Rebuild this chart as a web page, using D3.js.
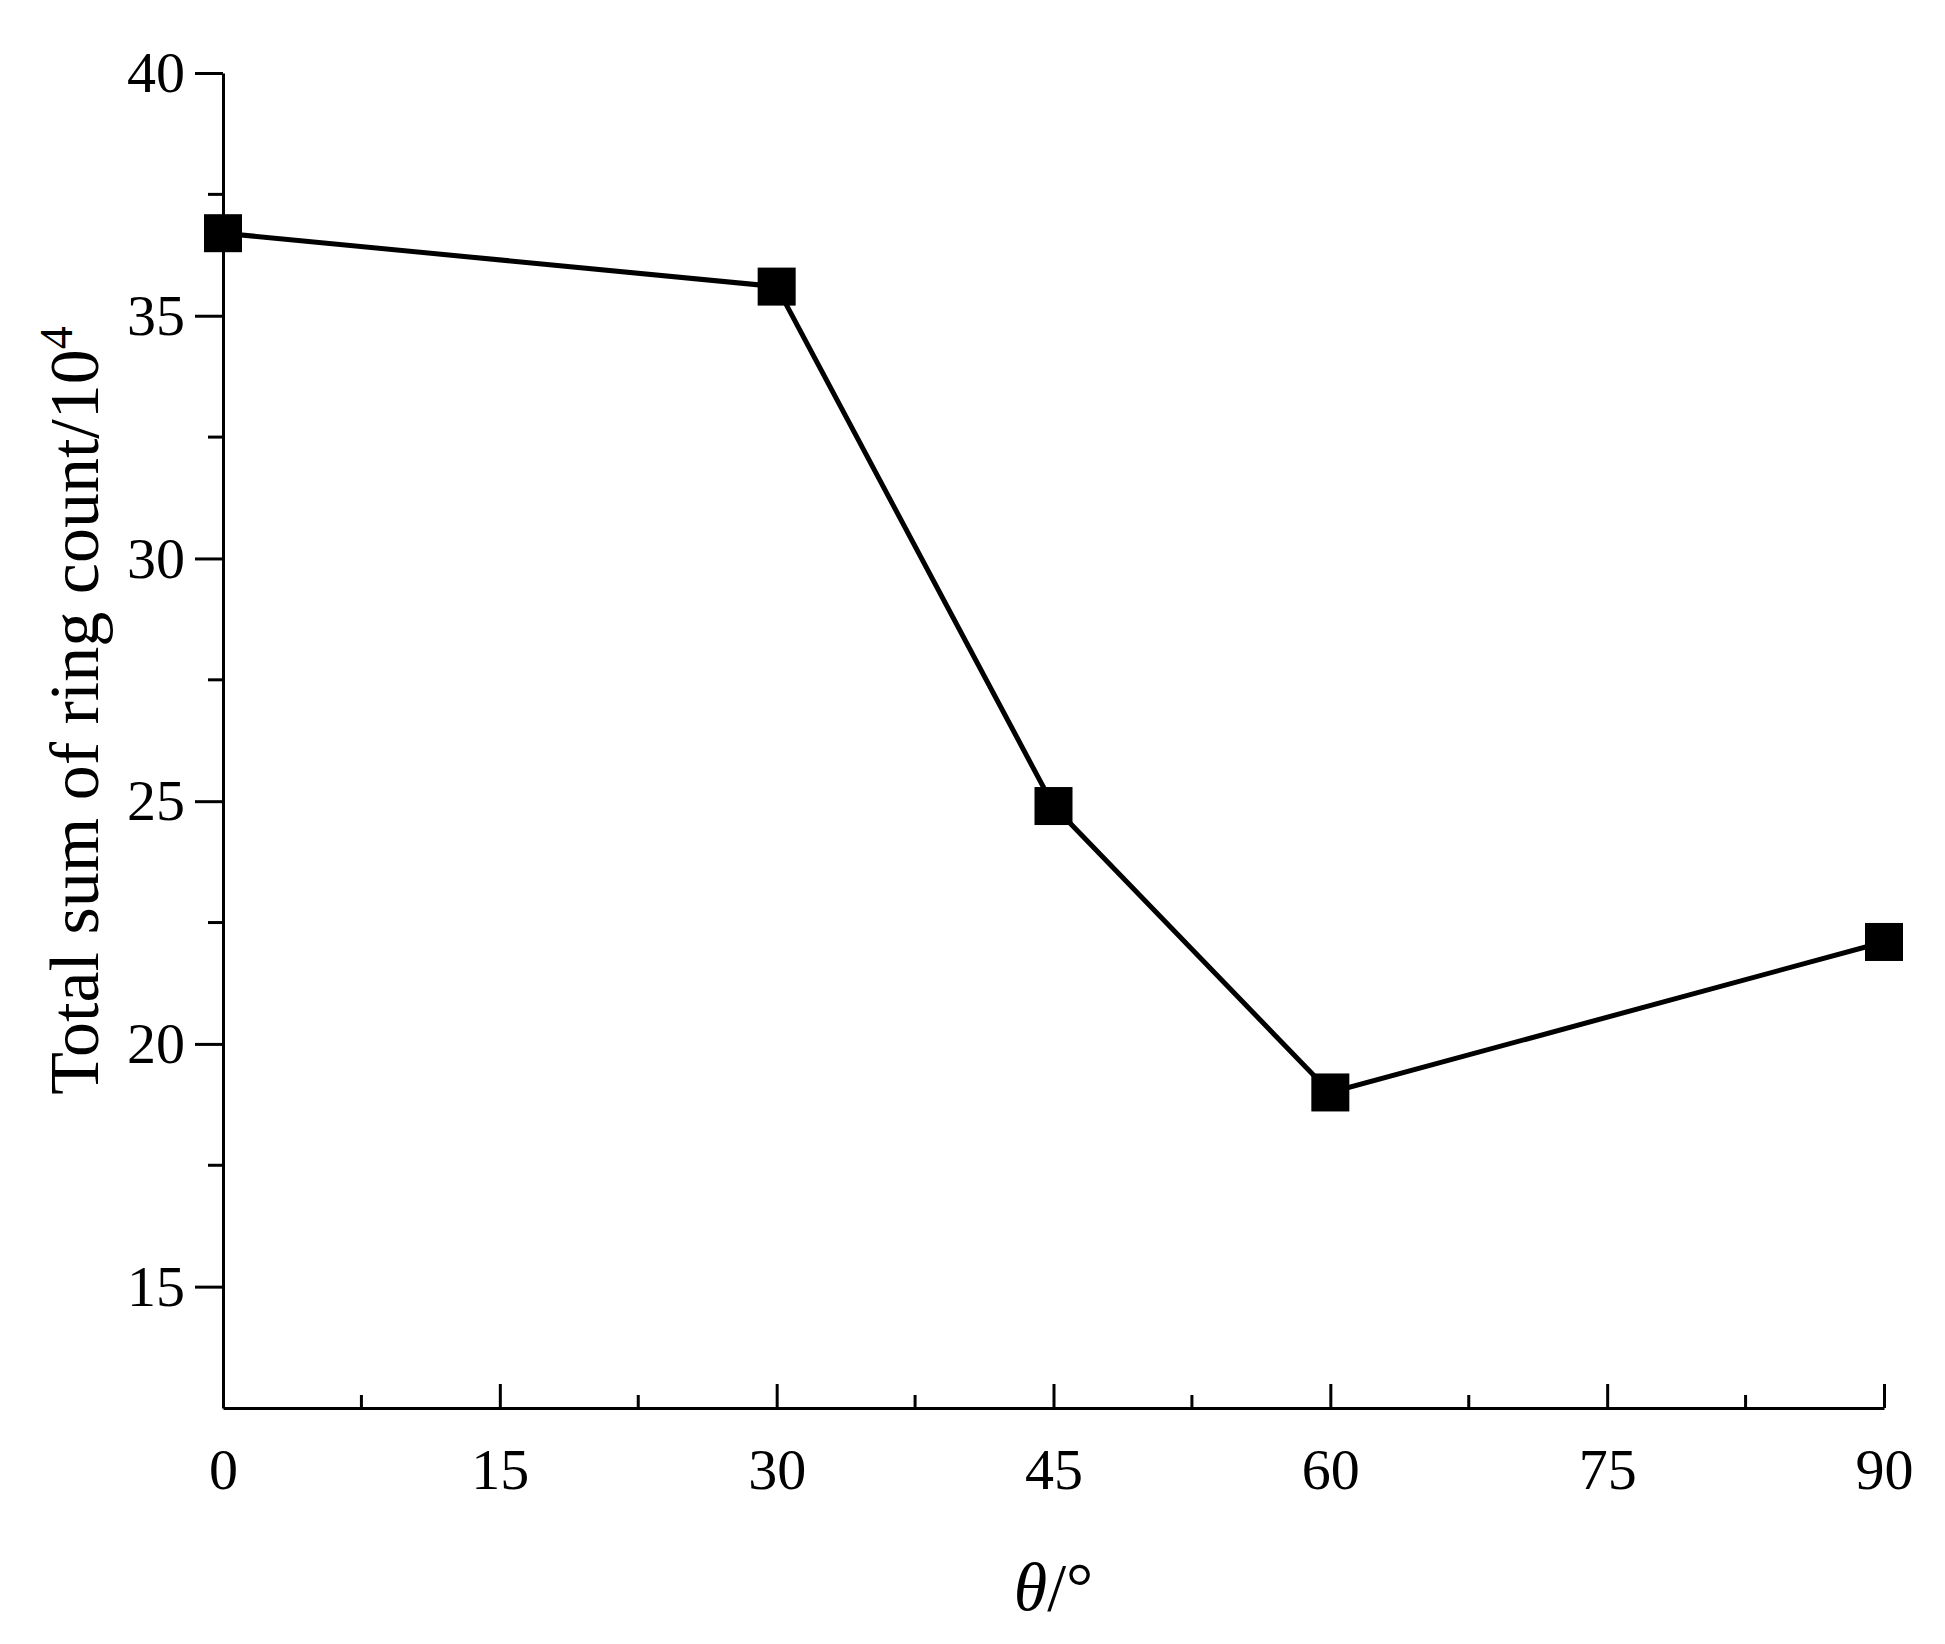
<!DOCTYPE html>
<html><head><meta charset="utf-8">
<script src="https://cdn.jsdelivr.net/npm/d3@7"></script>
<style>body{margin:0;background:#fff}</style>
</head><body><div id="chart"></div>
<script>
const angles = [0, 30, 45, 60, 90];
const counts = [36.7, 35.6, 24.9, 19.0, 22.1];
const xTicks = [0, 15, 30, 45, 60, 75, 90];
const yTicks = [15, 20, 25, 30, 35, 40];

function draw() {
  const width = 1945, height = 1644;
  const m = {left: 223, right: 61, top: 73, bottom: 236};
  const font = '"Liberation Serif", "Times New Roman", serif';
  const svg = d3.select('#chart').append('svg')
    .attr('width', width).attr('height', height)
    .style('font-family', font);

  const x = d3.scaleLinear().domain([0, 90]).range([m.left, width - m.right]);
  const y = d3.scaleLinear().domain([12.5, 40]).range([height - m.bottom, m.top]);

  // x axis, ticks pointing up
  const xa = svg.append('g').attr('transform', `translate(0,${y(12.5)})`)
    .call(d3.axisBottom(x).tickValues(xTicks).tickSize(-24).tickPadding(40).tickSizeOuter(0));
  xa.append('g').selectAll('line').data(d3.range(7.5, 90, 15)).join('line')
    .attr('x1', d => x(d)).attr('x2', d => x(d)).attr('y1', 0).attr('y2', -13).attr('stroke', '#000').attr('stroke-width', 3);

  const ya = svg.append('g').attr('transform', `translate(${x(0)},0)`)
    .call(d3.axisLeft(y).tickValues(yTicks).tickSize(28).tickPadding(10).tickSizeOuter(0));
  ya.append('g').selectAll('line').data(d3.range(17.5, 40, 5)).join('line')
    .attr('x1', 0).attr('x2', -15).attr('y1', d => y(d)).attr('y2', d => y(d)).attr('stroke', '#000').attr('stroke-width', 3);

  svg.selectAll('.domain').attr('stroke-width', 3).attr('stroke', '#000');
  svg.selectAll('.tick line').attr('stroke-width', 3);
  svg.selectAll('.tick text').style('font-size', '58px').style('font-family', font).attr('fill', '#000');
  xa.selectAll('.tick text').attr('dy', '0.71em');

  const pts = angles.map((a, i) => [a, counts[i]]);
  svg.append('path').datum(pts)
    .attr('d', d3.line().x(d => x(d[0])).y(d => y(d[1])))
    .attr('fill', 'none').attr('stroke', '#000').attr('stroke-width', 5);
  svg.append('g').selectAll('rect').data(pts).join('rect')
    .attr('x', d => x(d[0]) - 19).attr('y', d => y(d[1]) - 19)
    .attr('width', 38).attr('height', 38).attr('fill', '#000');

  svg.append('text').attr('x', x(45)).attr('y', 1610).attr('text-anchor', 'middle')
    .style('font-size', '68px').html('<tspan font-style="italic">θ</tspan>/°');

  svg.append('text').attr('transform', `translate(98,${(y(12.5)+y(40))/2 - 30}) rotate(-90)`)
    .attr('text-anchor', 'middle').style('font-size', '70px')
    .html('Total sum of ring count/10<tspan dy="-26" font-size="46px">4</tspan>');
}
draw();
</script></body></html>
